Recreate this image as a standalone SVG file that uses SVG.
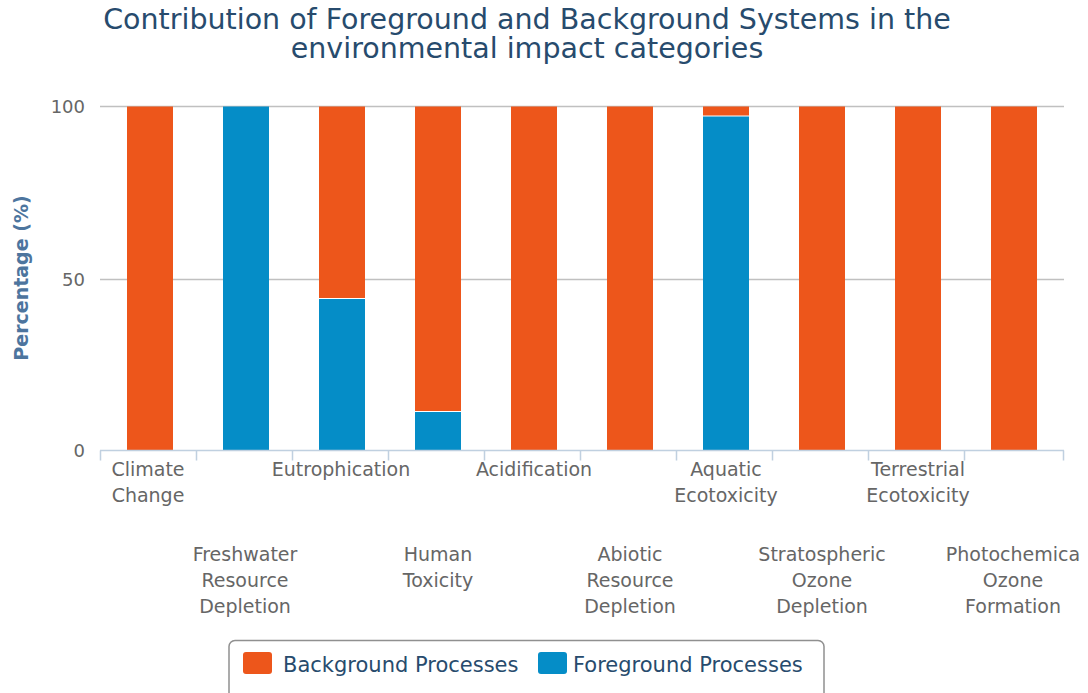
<svg xmlns="http://www.w3.org/2000/svg" width="1088" height="693" viewBox="0 0 1088 693">
<style>
.t{font-family:"DejaVu Sans","Liberation Sans",sans-serif}
.title{font-size:28.5px;fill:#274b6d;text-anchor:middle}
.yl{font-size:18px;fill:#666;text-anchor:end}
.xl{font-size:19px;fill:#666;text-anchor:middle}
.yt{font-size:19px;fill:#4d759e;font-weight:bold;text-anchor:middle}
.lg{font-size:21px;fill:#274b6d}
.bg{fill:#ED561B}
.fg{fill:#058DC7}
.grid{stroke:#C0C0C0;stroke-width:1.5}
</style>
<rect width="1088" height="693" fill="#fff"/>
<g id="title" class="t">
<text class="title" x="527" y="29">Contribution of Foreground and Background Systems in the</text>
<text class="title" x="527" y="58">environmental impact categories</text>
</g>
<g id="y-axis" class="t">
<line class="grid" x1="100" y1="106.5" x2="1064" y2="106.5"/>
<line class="grid" x1="100" y1="279.5" x2="1064" y2="279.5"/>
<text class="yl" x="85" y="113">100</text>
<text class="yl" x="85" y="286">50</text>
<text class="yl" x="85" y="457">0</text>
<text class="yt" transform="translate(28,278) rotate(-90)">Percentage (%)</text>
</g>
<g id="bars">
<rect class="bg" x="127" y="106.5" width="46" height="344"/>
<rect class="fg" x="223" y="106.5" width="46" height="344"/>
<rect class="bg" x="319" y="106.5" width="46" height="191.5"/>
<rect class="fg" x="319" y="299" width="46" height="151.5"/>
<rect class="bg" x="415" y="106.5" width="46" height="304.5"/>
<rect class="fg" x="415" y="412" width="46" height="38.5"/>
<rect class="bg" x="511" y="106.5" width="46" height="344"/>
<rect class="bg" x="607" y="106.5" width="46" height="344"/>
<rect class="bg" x="703" y="106.5" width="46" height="9"/>
<rect class="fg" x="703" y="116.5" width="46" height="334"/>
<rect class="bg" x="799" y="106.5" width="46" height="344"/>
<rect class="bg" x="895" y="106.5" width="46" height="344"/>
<rect class="bg" x="991" y="106.5" width="46" height="344"/>
</g>
<g id="x-axis" class="t">
<path d="M100 450.5H1064M100.5 450.5v10M196.5 450.5v10M292.5 450.5v10M388.5 450.5v10M484.5 450.5v10M580.5 450.5v10M676.5 450.5v10M772.5 450.5v10M868.5 450.5v10M964.5 450.5v10M1063.5 450.5v10" stroke="#C0D0E0" stroke-width="1.5" fill="none"/>
<text class="xl" x="148" y="476">Climate</text>
<text class="xl" x="148" y="502">Change</text>
<text class="xl" x="341" y="476">Eutrophication</text>
<text class="xl" x="534" y="476">Acidification</text>
<text class="xl" x="726" y="476">Aquatic</text>
<text class="xl" x="726" y="502">Ecotoxicity</text>
<text class="xl" x="918" y="476">Terrestrial</text>
<text class="xl" x="918" y="502">Ecotoxicity</text>
<text class="xl" x="245" y="561">Freshwater</text>
<text class="xl" x="245" y="587">Resource</text>
<text class="xl" x="245" y="613">Depletion</text>
<text class="xl" x="438" y="561">Human</text>
<text class="xl" x="438" y="587">Toxicity</text>
<text class="xl" x="630" y="561">Abiotic</text>
<text class="xl" x="630" y="587">Resource</text>
<text class="xl" x="630" y="613">Depletion</text>
<text class="xl" x="822" y="561">Stratospheric</text>
<text class="xl" x="822" y="587">Ozone</text>
<text class="xl" x="822" y="613">Depletion</text>
<text class="xl" x="1013" y="561">Photochemica</text>
<text class="xl" x="1013" y="587">Ozone</text>
<text class="xl" x="1013" y="613">Formation</text>
</g>
<g id="legend" class="t">
<rect x="229" y="640.5" width="595" height="60" rx="6" fill="#fff" stroke="#909090" stroke-width="1.5"/>
<rect class="bg" x="243" y="652" width="29" height="22" rx="3"/>
<text class="lg" x="283" y="672">Background Processes</text>
<rect class="fg" x="538" y="652" width="29" height="22" rx="3"/>
<text class="lg" x="573" y="672">Foreground Processes</text>
</g>
</svg>
